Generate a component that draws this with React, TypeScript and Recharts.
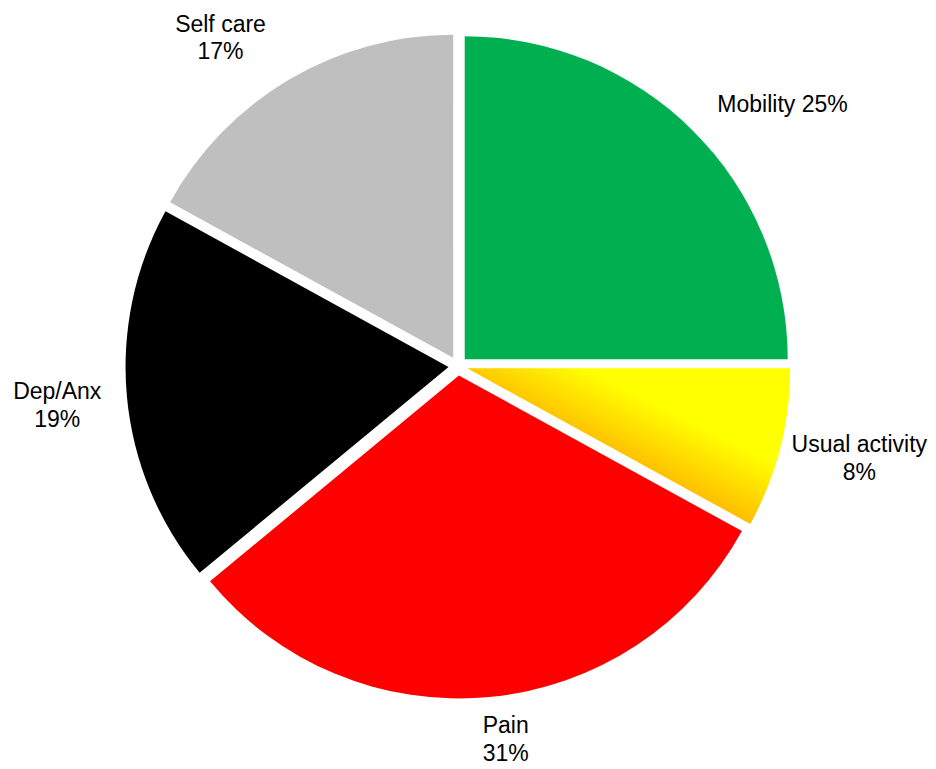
import React from 'react';
import { PieChart, Pie, Cell } from 'recharts';

const CATEGORIES = ['Mobility', 'Usual activity', 'Pain', 'Dep/Anx', 'Self care'];
const VALUES = [25, 8, 31, 19, 17];
const PERCENT_LABELS = ['25%', '8%', '31%', '19%', '17%'];
const COLORS = ['#00B050', 'url(#usualGrad)', '#FF0000', '#000000', '#BFBFBF'];

// layout (not data)
const W = 920;
const H = 761;
const CX = 450;
const CY = 358;
const R = 323;
const EXPLODE = 9.5;
const FONT = 23;
const LINE = 27.5;
const LABEL_LAYOUT = [
  { shift: 6.1, dist: 417, oneLine: true },
  { shift: -1.5, dist: 411.7, oneLine: false },
  { shift: -1.9, dist: 375.8, oneLine: false },
  { shift: -0.1, dist: 402.6, oneLine: false },
  { shift: -5.25, dist: 405.5, oneLine: false },
];

const rows = CATEGORIES.map((name, i) => ({ name, value: VALUES[i], pct: PERCENT_LABELS[i] }));
const total = VALUES.reduce((a, b) => a + b, 0);

// mid angle of each slice in recharts convention (ccw from 3 o'clock), start 90 clockwise
const midAngles = VALUES.map((v, i) => {
  const before = VALUES.slice(0, i).reduce((a, b) => a + b, 0);
  const midFrac = (before + v / 2) / total;
  return 90 - midFrac * 360;
});

const RAD = Math.PI / 180;

const makeLabel = (visibleIdx: number) => (props: any) => {
  const { index, midAngle } = props;
  if (index !== visibleIdx) return null;
  const lay = LABEL_LAYOUT[index];
  const theta = (90 - midAngle + lay.shift) * RAD;
  const x = CX + lay.dist * Math.sin(theta);
  const y = CY - lay.dist * Math.cos(theta);
  const cap = 0.358 * FONT;
  const common = {
    x,
    textAnchor: 'middle' as const,
    fill: '#000',
    fontFamily: '"Liberation Sans", Arial, sans-serif',
    fontSize: FONT,
  };
  if (lay.oneLine) {
    return (
      <text {...common} y={y + cap}>
        {`${rows[index].name} ${rows[index].pct}`}
      </text>
    );
  }
  const b1 = y - LINE / 2 + cap;
  return (
    <text {...common} y={b1}>
      <tspan x={x} y={b1}>{rows[index].name}</tspan>
      <tspan x={x} y={b1 + LINE}>{rows[index].pct}</tspan>
    </text>
  );
};

export default function App() {
  return (
    <PieChart width={W} height={H} margin={{ top: 0, right: 0, bottom: 0, left: 0 }}>
      <defs>
        <linearGradient
          id="usualGrad"
          gradientUnits="userSpaceOnUse"
          x1={CX + 262}
          y1={CY + 29}
          x2={CX + 207}
          y2={CY + 139}
        >
          <stop offset="0" stopColor="#FFFF00" />
          <stop offset="0.3" stopColor="#FFFF00" />
          <stop offset="0.8" stopColor="#FFC000" />
          <stop offset="1" stopColor="#FFC000" />
        </linearGradient>
      </defs>
      {rows.map((_, i) => {
        const a = midAngles[i] * RAD;
        const pcx = CX + EXPLODE * Math.cos(a);
        const pcy = CY - EXPLODE * Math.sin(a);
        return (
          <Pie
            key={i}
            data={rows}
            dataKey="value"
            nameKey="name"
            cx={pcx}
            cy={pcy}
            innerRadius={0}
            outerRadius={R}
            startAngle={90}
            endAngle={-270}
            stroke="none"
            isAnimationActive={false}
            labelLine={false}
            label={makeLabel(i)}
            legendType="none"
          >
            {rows.map((__, j) => (
              <Cell key={j} fill={j === i ? COLORS[j] : 'transparent'} stroke="none" />
            ))}
          </Pie>
        );
      })}
    </PieChart>
  );
}
